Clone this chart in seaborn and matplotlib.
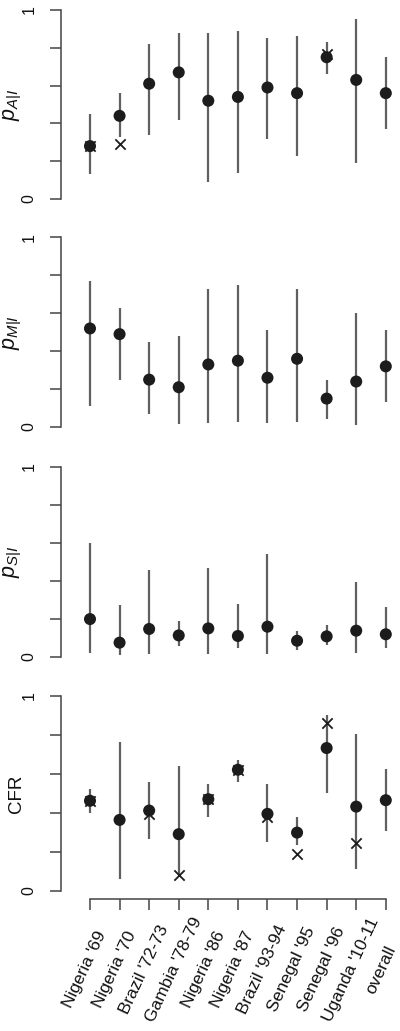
#four stacked panels: estimates with intervals per outbreak
#crosses mark the observed values where there are any

import numpy as np
import seaborn as sns
from matplotlib import pyplot as plt
from matplotlib.transforms import ScaledTranslation

nan = np.nan

outbreaks = ["Nigeria '69", "Nigeria '70", "Brazil '72-73", "Gambia '78-79",
             "Nigeria '86", "Nigeria '87", "Brazil '93-94", "Senegal '95",
             "Senegal '96", "Uganda '10-11", "overall"]

pA_est = [0.28, 0.44, 0.61, 0.67, 0.52, 0.54, 0.59, 0.56, 0.75, 0.63, 0.56]
pA_lo = [0.13, 0.33, 0.34, 0.42, 0.09, 0.14, 0.32, 0.23, 0.66, 0.19, 0.37]
pA_hi = [0.45, 0.56, 0.82, 0.88, 0.88, 0.89, 0.85, 0.86, 0.83, 0.95, 0.75]
pA_obs = [0.28, 0.29, nan, nan, nan, nan, nan, nan, 0.765, nan, nan]

pM_est = [0.52, 0.49, 0.25, 0.21, 0.33, 0.35, 0.26, 0.36, 0.15, 0.24, 0.32]
pM_lo = [0.11, 0.25, 0.07, 0.017, 0.021, 0.025, 0.021, 0.028, 0.044, 0.012, 0.13]
pM_hi = [0.77, 0.63, 0.45, 0.48, 0.73, 0.75, 0.51, 0.73, 0.25, 0.60, 0.51]

pS_est = [0.198, 0.074, 0.146, 0.112, 0.149, 0.109, 0.158, 0.084, 0.107, 0.137, 0.118]
pS_lo = [0.018, 0.009, 0.014, 0.056, 0.014, 0.044, 0.014, 0.035, 0.061, 0.018, 0.044]
pS_hi = [0.596, 0.272, 0.456, 0.189, 0.465, 0.277, 0.54, 0.135, 0.167, 0.395, 0.263]

cfr_est = [0.462, 0.364, 0.412, 0.291, 0.47, 0.621, 0.395, 0.299, 0.732, 0.432, 0.465]
cfr_lo = [0.398, 0.06, 0.268, 0.082, 0.378, 0.559, 0.253, 0.236, 0.504, 0.113, 0.308]
cfr_hi = [0.521, 0.761, 0.559, 0.638, 0.549, 0.672, 0.549, 0.378, 0.903, 0.805, 0.624]
cfr_obs = [0.462, nan, 0.395, 0.082, 0.47, 0.621, 0.378, 0.19, 0.86, 0.248, nan]

ylabels = [r'$p_{A|I}$', r'$p_{M|I}$', r'$p_{S|I}$', 'CFR']

#######################################

W, H = 400, 1031
# (top, bottom) of each panel in pixels
panel_px = [(2.4, 206.6), (229.9, 434.6), (459.1, 664.3), (687.9, 898.8)]
label_x = [12.5, 12.5, 12.5, 16.5]
label_sz = [15.5, 15.5, 15.5, 13.5]
left_px = 61
spine_col = '#444444'
bar_col = '#606060'
dot_col = '#1c1c1c'

sns.set_style('ticks')
plt.rcParams['font.family'] = ['Liberation Sans', 'DejaVu Sans']
plt.rcParams['mathtext.fontset'] = 'custom'
plt.rcParams['mathtext.rm'] = 'Liberation Sans'
plt.rcParams['mathtext.it'] = 'Liberation Sans:italic'

fig = plt.figure(figsize=(W / 100, H / 100), dpi=100)
x = np.arange(len(outbreaks))

panels = [(pA_est, pA_lo, pA_hi, pA_obs), (pM_est, pM_lo, pM_hi, None),
          (pS_est, pS_lo, pS_hi, None), (cfr_est, cfr_lo, cfr_hi, cfr_obs)]

for i, (est, lo, hi, obs) in enumerate(panels):
    top, bot = panel_px[i]
    ax = fig.add_axes([left_px / W, 1 - bot / H, (W - left_px) / W, (bot - top) / H])
    ax.vlines(x, lo, hi, color=bar_col, linewidth=1.6, zorder=1)
    sns.scatterplot(x=x, y=est, ax=ax, color=dot_col, s=75, edgecolor='none',
                    zorder=3, legend=False)
    if obs is not None:
        sns.scatterplot(x=x, y=obs, ax=ax, color=dot_col, marker='x', s=55,
                        linewidth=1.3, zorder=4, legend=False)
    ax.set_xlim(-0.98, 10.48)
    ax.set_ylim(-0.04, 1.04)

    sns.despine(ax=ax, top=True, right=True, bottom=(i < 3))
    ax.spines['left'].set_bounds(0, 1)
    ax.spines['left'].set_color(spine_col)
    ax.spines['left'].set_linewidth(1.1)
    ax.set_yticks([0, 0.2, 0.4, 0.6, 0.8, 1.0])
    ax.set_yticklabels(['0', '', '', '', '', '1'], rotation=90, va='center',
                       fontsize=11.5)
    ax.tick_params(axis='y', length=8, width=1.1, color=spine_col, pad=9.5,
                   labelcolor='#111111')

    ax.text((label_x[i] - left_px) / (W - left_px), 0.5, ylabels[i],
            transform=ax.transAxes, rotation=90, ha='center', va='center',
            fontsize=label_sz[i], color='#111111')

    if i < 3:
        ax.set_xticks([])
    else:
        ax.spines['bottom'].set_bounds(0, 10)
        ax.spines['bottom'].set_color(spine_col)
        ax.spines['bottom'].set_linewidth(1.1)
        ax.set_xticks(x)
        # labels centred on a point below and a bit left of each tick
        ax.set_xticklabels(outbreaks, rotation=65, ha='center', va='center',
                           rotation_mode='anchor', fontsize=12.5, color='#111111')
        ax.tick_params(axis='x', length=8, width=1.1, color=spine_col, pad=43)
        shift = ScaledTranslation(-0.05, 0, fig.dpi_scale_trans)
        for lab in ax.get_xticklabels():
            lab.set_transform(lab.get_transform() + shift)

plt.savefig('out.png', dpi=100)
